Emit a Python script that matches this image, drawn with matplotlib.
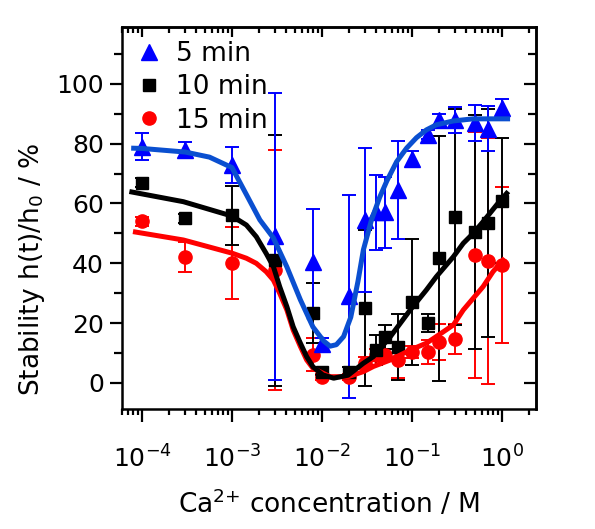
import numpy as np
import matplotlib.pyplot as plt
from matplotlib.lines import Line2D
from matplotlib.ticker import MultipleLocator, LogLocator, NullFormatter

plt.rcParams['font.family'] = ['DejaVu Sans']
plt.rcParams['mathtext.fontset'] = 'dejavusans'
plt.rcParams['mathtext.default'] = 'regular'

# measured points (Ca2+ concentration in M, stability in %)
conc = [1e-4, 3e-4, 1e-3, 3e-3, 8e-3, 1e-2, 2e-2, 3e-2, 4e-2, 5e-2,
        7e-2, 1e-1, 1.5e-1, 2e-1, 3e-1, 5e-1, 7e-1, 1.0]

stab_5 = [79, 78, 73, 49, 40.5, 13, 29, 54.5, 57, 57,
          64.5, 75, 83, 88, 88, 87, 85, 92]
err_5 = [4.5, 2.5, 6, 48, 17.5, 2, 34, 24, 12.5, 12,
         16.5, 2.5, 1.5, 2, 4.3, 6, 7.5, 3]

stab_10 = [67, 55, 56, 41, 23.4, 3.7, 3.7, 25, 11, 15.4,
           12, 27, 20, 41.7, 55.5, 50.5, 53.5, 61]
err_10 = [1.5, 1.5, 10, 42, 10, 1, 1.5, 26, 5, 4,
          11, 21, 3, 41, 36, 39, 38, 21]

stab_15 = [54, 42, 40, 37.8, 9.4, 2, 2, 6.7, 9.4, 9.4,
           7.7, 10.4, 10.4, 13.7, 14.7, 42.8, 40.8, 39.5]
err_15 = [1.5, 5, 12, 40, 5.5, 1, 1, 2, 2, 2,
          6, 2, 4, 6, 5, 41, 41, 26]

# fitted curves (log10 of concentration, %)
fit5_logx = [-4.12, -4.0, -3.52, -3.25, -3.0, -2.84, -2.69, -2.54, -2.39, -2.24,
             -2.1, -1.98, -1.91, -1.84, -1.76, -1.68, -1.6, -1.54, -1.45, -1.36,
             -1.28, -1.17, -1.06, -0.95, -0.84, -0.73, -0.54, -0.32, 0.09]
fit5_y = [78.5, 78.4, 77.2, 75.5, 72, 63, 54.5, 48.5, 38.8, 27.8,
          18.7, 14, 12.3, 12.8, 15.5, 22, 34, 44.5, 54.5, 62,
          67.5, 74, 78.5, 82, 84.6, 86.3, 87.6, 88.3, 88.3]

fit10_logx = [-4.14, -3.54, -3.0, -2.84, -2.73, -2.62, -2.54, -2.47, -2.39, -2.32,
              -2.24, -2.17, -2.1, -1.99, -1.87, -1.71, -1.54, -1.43, -1.24, -1.02,
              -0.84, -0.73, -0.54, -0.43, -0.32, -0.21, -0.06, 0.07]
fit10_y = [64, 60.6, 55.8, 52.8, 48.9, 43.3, 38.9, 32.2, 25.5, 18.8,
           13.3, 8.8, 5.4, 2.7, 1.6, 2.6, 6.6, 8.8, 15.5, 24.4,
           31.1, 35.5, 42.2, 46.7, 50, 53.9, 59.5, 64]

fit15_logx = [-4.1, -3.54, -3.0, -2.84, -2.73, -2.62, -2.54, -2.47, -2.39, -2.32,
              -2.24, -2.17, -2.1, -1.91, -1.71, -1.54, -1.43, -1.24, -1.02, -0.84,
              -0.73, -0.54, -0.43, -0.32, -0.21, -0.1, 0.03]
fit15_y = [50.6, 47.8, 43.4, 41.7, 40, 37.2, 34.4, 30, 24.4, 17.7,
           12.2, 7.7, 4.9, 2.1, 2.1, 3.8, 5.5, 7.7, 11, 13.3,
           15.5, 19.4, 24.4, 28.3, 32.2, 37.2, 41.7]

series = [
    ('5 min', stab_5, err_5, fit5_logx, fit5_y, '#0000ff', '#0a4fd0', '^', 11),
    ('10 min', stab_10, err_10, fit10_logx, fit10_y, 'black', 'black', 's', 8.5),
    ('15 min', stab_15, err_15, fit15_logx, fit15_y, '#ff0000', '#ff0000', 'o', 9.5),
]

fig = plt.figure(figsize=(5.95, 5.29), dpi=100)
ax = fig.add_axes([122 / 595, 1 - 409 / 529, (536 - 122) / 595, (409 - 27) / 529])

handles = []
for name, y, e, fx, fy, mc, lc, mk, ms in series[::-1]:
    ax.errorbar(conc, y, yerr=e, fmt=mk, color=mc, ms=ms, elinewidth=1.4,
                capsize=4.8, capthick=1.4, zorder=2)
for name, y, e, fx, fy, mc, lc, mk, ms in series[::-1]:
    ax.plot(10 ** np.array(fx), fy, color=lc, lw=3.6, zorder=3,
            solid_capstyle='butt', solid_joinstyle='round')
for name, y, e, fx, fy, mc, lc, mk, ms in series:
    handles.append(Line2D([], [], ls='none', marker=mk, color=mc, ms=ms))

ax.set_xscale('log')
ax.set_xlim(10 ** -4.222, 10 ** 0.378)
ax.set_ylim(-8.7, 119)
ax.yaxis.set_major_locator(MultipleLocator(20))
ax.yaxis.set_minor_locator(MultipleLocator(10))
ax.xaxis.set_major_locator(LogLocator(base=10, numticks=10))
ax.xaxis.set_minor_locator(LogLocator(base=10, subs=np.arange(2, 10), numticks=20))
ax.xaxis.set_minor_formatter(NullFormatter())

for s in ax.spines.values():
    s.set_linewidth(1.8)
ax.tick_params(which='major', direction='out', length=9, width=1.6, labelsize=18, pad=4)
ax.tick_params(axis='y', which='minor', direction='out', length=5.5, width=1.6)
ax.tick_params(axis='x', which='minor', direction='out', length=4, width=1.6)
ax.tick_params(axis='x', which='major', pad=17)

top = ax.secondary_xaxis('top')
top.xaxis.set_major_locator(LogLocator(base=10, numticks=10))
top.xaxis.set_minor_locator(LogLocator(base=10, subs=np.arange(2, 10), numticks=20))
top.tick_params(which='major', direction='in', length=7, width=1.6, labeltop=False)
top.tick_params(which='minor', direction='in', length=4.5, width=1.6)
top.xaxis.set_minor_formatter(NullFormatter())
right = ax.secondary_yaxis('right')
right.yaxis.set_major_locator(MultipleLocator(20))
right.yaxis.set_minor_locator(MultipleLocator(10))
right.tick_params(which='major', direction='in', length=9, width=1.6, labelright=False)
right.tick_params(which='minor', direction='in', length=5.5, width=1.6)
for sa in (top, right):
    for s in sa.spines.values():
        s.set_linewidth(1.8)

ax.set_xlabel('Ca$^{2{+}}$ concentration / M', fontsize=19)
ax.xaxis.set_label_coords(0.5, -0.207)
ax.set_ylabel('Stability h(t)/h$_0$ / %', fontsize=19)
ax.yaxis.set_label_coords(-0.18, 0.366)

ax.legend(handles, ['5 min', '10 min', '15 min'], loc='upper left',
          bbox_to_anchor=(-0.015, 1.012), frameon=False, fontsize=19,
          handlelength=1.1, handletextpad=0.5, labelspacing=0.28,
          borderaxespad=0.3)

fig.savefig('out.png', dpi=100)
